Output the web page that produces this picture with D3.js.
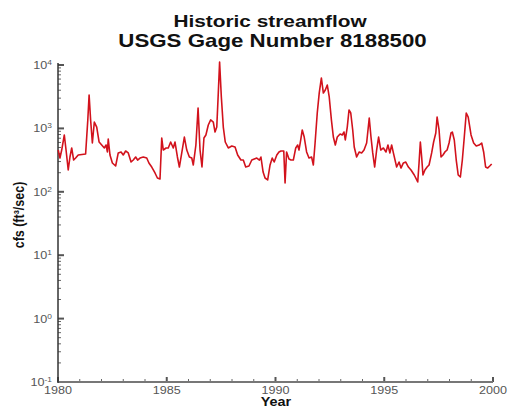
<!DOCTYPE html>
<html><head><meta charset="utf-8">
<script src="https://cdn.jsdelivr.net/npm/d3@7"></script>
<style>body{margin:0;background:#fff}svg{display:block}text{font-family:"Liberation Sans",Arial,sans-serif}</style>
</head><body><svg id="c" width="508" height="409"></svg>
<script>
const titleLines = ["Historic streamflow", "USGS Gage Number 8188500"];
const xLabel = "Year";
const yLabel = "cfs (ft\u00B3/sec)";
const xTickYears = [1980, 1985, 1990, 1995, 2000];
const yTickExps = [-1, 0, 1, 2, 3, 4];
const years = [1980.01,1980.09,1980.17,1980.29,1980.37,1980.47,1980.55,1980.63,1980.72,1980.81,1980.93,1981.27,1981.37,1981.43,1981.50,1981.58,1981.67,1981.78,1981.89,1982.01,1982.13,1982.21,1982.27,1982.31,1982.39,1982.50,1982.65,1982.77,1982.90,1983.00,1983.11,1983.23,1983.36,1983.46,1983.57,1983.66,1983.77,1983.92,1984.08,1984.18,1984.31,1984.46,1984.57,1984.69,1984.77,1984.84,1984.97,1985.07,1985.18,1985.30,1985.38,1985.49,1985.58,1985.69,1985.81,1985.92,1986.04,1986.15,1986.22,1986.34,1986.44,1986.53,1986.62,1986.71,1986.80,1986.91,1987.02,1987.14,1987.22,1987.30,1987.37,1987.43,1987.51,1987.60,1987.69,1987.83,1987.99,1988.14,1988.26,1988.41,1988.52,1988.63,1988.78,1988.91,1989.14,1989.26,1989.33,1989.43,1989.52,1989.64,1989.75,1989.85,1989.94,1990.06,1990.16,1990.25,1990.38,1990.44,1990.51,1990.62,1990.71,1990.82,1990.93,1991.02,1991.08,1991.16,1991.23,1991.32,1991.43,1991.54,1991.66,1991.74,1991.82,1991.92,1992.01,1992.11,1992.20,1992.29,1992.38,1992.47,1992.57,1992.66,1992.75,1992.84,1992.97,1993.07,1993.15,1993.21,1993.30,1993.38,1993.46,1993.55,1993.62,1993.73,1993.85,1993.96,1994.07,1994.19,1994.31,1994.39,1994.47,1994.56,1994.65,1994.74,1994.84,1994.96,1995.08,1995.17,1995.26,1995.34,1995.42,1995.57,1995.68,1995.77,1995.88,1995.99,1996.11,1996.23,1996.38,1996.54,1996.60,1996.66,1996.72,1996.78,1996.87,1996.97,1997.06,1997.18,1997.27,1997.37,1997.43,1997.52,1997.61,1997.70,1997.79,1997.89,1997.98,1998.07,1998.13,1998.22,1998.31,1998.40,1998.50,1998.59,1998.68,1998.77,1998.86,1998.99,1999.11,1999.23,1999.36,1999.48,1999.57,1999.66,1999.75,1999.85,1999.94];
const flow = [456,341,456,787,456,221,354,491,317,341,381,395,1360,3360,1360,588,1260,1050,610,547,491,547,425,681,381,285,255,410,425,381,440,410,295,317,354,317,341,354,341,285,246,198,165,159,706,456,491,491,610,491,610,354,246,410,731,456,354,341,265,547,2100,456,246,706,787,1130,1360,1260,877,1050,3610,11150,3130,1050,610,491,527,509,381,317,317,246,255,317,341,317,354,205,165,154,265,341,295,381,425,440,440,138,425,329,317,317,491,547,456,657,944,731,425,341,354,265,588,1750,3610,6240,3610,4040,4840,3130,1360,731,547,731,816,787,877,657,1050,1950,1750,944,509,354,425,410,456,588,1460,731,410,246,456,731,456,491,425,547,410,547,410,246,295,237,285,295,246,221,184,143,285,610,354,184,221,246,265,410,610,846,1510,944,354,381,425,456,588,846,877,657,317,184,171,317,731,1750,1510,787,588,527,547,588,425,246,237,255,274];

const svg = d3.select("#c");
const SX = 1.2;
const x = d3.scaleLinear().domain([1980, 2000]).range([58, 493]);
const y = d3.scaleLog().domain([0.1, 10000]).range([382, 65]);

function stext(g, tx, ty, anchor, size, weight, fill, str) {
  return g.append("text").attr("transform", `translate(${tx},${ty}) scale(${SX},1)`)
    .attr("text-anchor", anchor).attr("font-size", size).attr("font-weight", weight)
    .attr("fill", fill).text(str);
}

// titles
stext(svg, 270, 27, "middle", 17, "bold", "#111", titleLines[0])
  .attr("textLength", 161).attr("lengthAdjust", "spacingAndGlyphs");
stext(svg, 272.5, 47, "middle", 17.5, "bold", "#111", titleLines[1])
  .attr("textLength", 257).attr("lengthAdjust", "spacingAndGlyphs");

// minor ticks y
const minorY = [];
yTickExps.slice(0, -1).forEach(e => { for (let k = 2; k <= 9; k++) minorY.push(k * Math.pow(10, e)); });
svg.selectAll(".my").data(minorY).enter().append("line")
  .attr("x1", 58).attr("x2", 61).attr("y1", d => y(d)).attr("y2", d => y(d))
  .attr("stroke", "#666").attr("stroke-width", 1);
svg.selectAll(".My").data(yTickExps).enter().append("line")
  .attr("x1", 58).attr("x2", 64).attr("y1", d => y(Math.pow(10, d))).attr("y2", d => y(Math.pow(10, d)))
  .attr("stroke", "#555").attr("stroke-width", 2);

// x ticks
const minorX = d3.range(1981, 2000).filter(v => !xTickYears.includes(v));
svg.selectAll(".mx").data(minorX).enter().append("line")
  .attr("x1", d => x(d)).attr("x2", d => x(d)).attr("y1", 382).attr("y2", 379)
  .attr("stroke", "#666").attr("stroke-width", 1);
svg.selectAll(".Mx").data(xTickYears).enter().append("line")
  .attr("x1", d => x(d)).attr("x2", d => x(d)).attr("y1", 382).attr("y2", 377)
  .attr("stroke", "#555").attr("stroke-width", 2);

// axis lines
svg.append("line").attr("x1", 58).attr("x2", 493).attr("y1", 382).attr("y2", 382).attr("stroke", "#777").attr("stroke-width", 2);
svg.append("line").attr("x1", 58).attr("x2", 58).attr("y1", 63).attr("y2", 383).attr("stroke", "#333").attr("stroke-width", 1.5);

// y labels
yTickExps.forEach(e => {
  const t = svg.append("text").attr("transform", `translate(52,${y(Math.pow(10, e)) + 4}) scale(${SX},1)`)
    .attr("text-anchor", "end").attr("font-size", 10.5).attr("fill", "#555");
  t.append("tspan").text("10");
  t.append("tspan").attr("dy", -4).attr("font-size", 7).text(String(e));
});
// x labels
xTickYears.forEach(v => stext(svg, x(v), 393.5, "middle", 10.5, "normal", "#555", String(v)));

// axis titles
stext(svg, 276, 405.5, "middle", 12, "bold", "#111", xLabel);
svg.append("text").attr("transform", `translate(24,215) scale(${SX},1) rotate(-90)`)
  .attr("text-anchor", "middle").attr("font-size", 12.5).attr("font-weight", "bold").attr("fill", "#111").text(yLabel);

// line
const pts = years.map((v, i) => [v, flow[i]]);
svg.append("path").datum(pts)
  .attr("d", d3.line().x(d => x(d[0])).y(d => y(d[1])))
  .attr("fill", "none").attr("stroke", "#d2121c").attr("stroke-width", 1.6).attr("stroke-linejoin", "round");
</script></body></html>
